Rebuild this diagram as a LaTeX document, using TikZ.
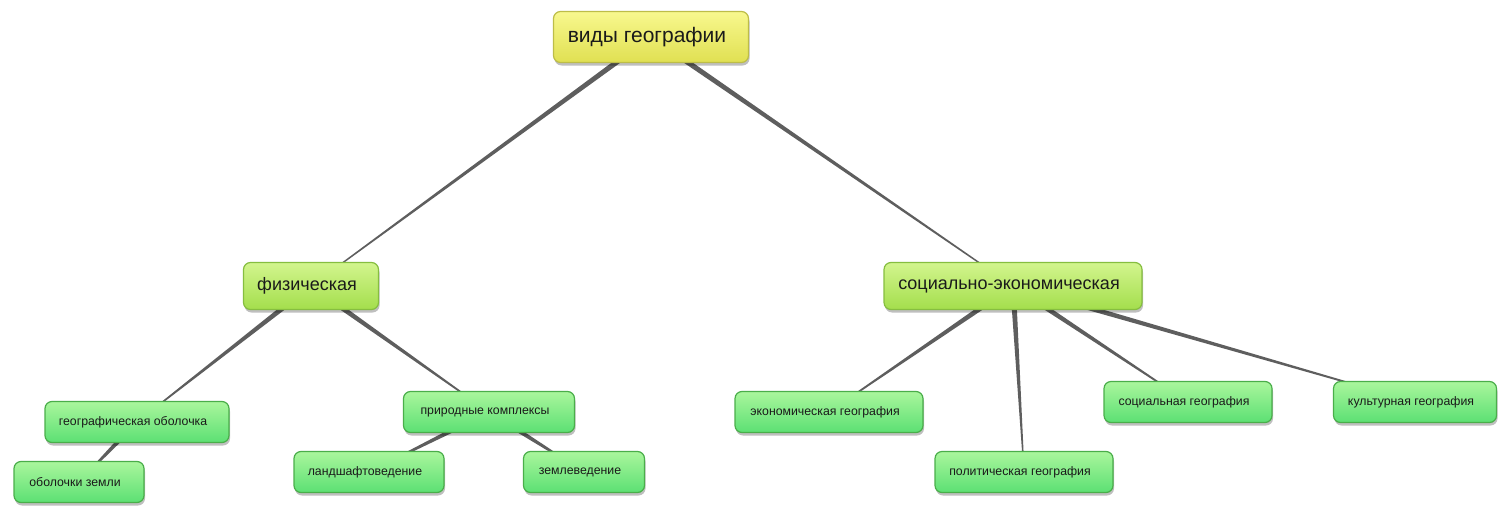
\documentclass[tikz,border=0pt]{standalone}
\usepackage{fontspec}
\setmainfont{Liberation Sans}
\usetikzlibrary{calc,shadows}
\pgfdeclarelayer{back}
\pgfdeclarelayer{bg}
\pgfsetlayers{back,bg,main}
\definecolor{linec}{HTML}{5E5E5E}
\definecolor{textc}{HTML}{1A1A1A}
\definecolor{ytop}{HTML}{F8F88E}
\definecolor{ybot}{HTML}{E0E052}
\definecolor{ybord}{HTML}{BDBD48}
\definecolor{mtop}{HTML}{D2F58E}
\definecolor{mbot}{HTML}{A4DE4C}
\definecolor{mbord}{HTML}{86BE40}
\definecolor{ltop}{HTML}{AAF69C}
\definecolor{lbot}{HTML}{5CE074}
\definecolor{lbord}{HTML}{4AAE4A}
\tikzset{
  box/.style={draw, line width=1.2pt, rounded corners=7pt, align=center, text=textc,
    inner sep=0pt, execute at end node={\hspace*{8pt}},
    drop shadow={shadow xshift=1pt, shadow yshift=-3pt, opacity=0.25, fill=black}},
  topbox/.style={box, draw=ybord, top color=ytop, bottom color=ybot,
    font=\fontsize{21}{24}\selectfont, minimum width=195pt, minimum height=51pt},
  midbox/.style={box, draw=mbord, top color=mtop, bottom color=mbot,
    font=\fontsize{18}{21}\selectfont, minimum height=47pt},
  leafbox/.style={box, draw=lbord, top color=ltop, bottom color=lbot,
    font=\fontsize{12.3}{15}\selectfont, minimum height=41pt},
}
\newcommand\taper[2]{%
  \fill[linec] ($(#1.center)!2.8pt!90:(#2.center)$) -- ($(#1.center)!2.8pt!-90:(#2.center)$)
    -- ($(#2.center)!0.5pt!90:(#1.center)$) -- ($(#2.center)!0.5pt!-90:(#1.center)$) -- cycle;}
\begin{document}
\begin{tikzpicture}[x=1pt,y=-1pt]
\begin{pgfonlayer}{back}
\useasboundingbox[fill=white] (0,0) rectangle (1506,514);
\end{pgfonlayer}
\node[topbox] (vid) at (651,37) {виды географии};
\node[midbox, minimum width=135pt] (fiz) at (311,286) {физическая};
\node[midbox, minimum width=258pt] (soc) at (1013,286) {социально-экономическая};
\node[leafbox, minimum width=184pt] (geo) at (137,422) {географическая оболочка};
\node[leafbox, minimum width=130pt] (obz) at (79,482) {оболочки земли};
\node[leafbox, minimum width=171pt] (prk) at (489,412) {природные комплексы};
\node[leafbox, minimum width=150pt] (lan) at (369,472) {ландшафтоведение};
\node[leafbox, minimum width=121pt] (zem) at (584,472) {землеведение};
\node[leafbox, minimum width=188pt] (eko) at (829,412) {экономическая география};
\node[leafbox, minimum width=178pt] (pol) at (1024,472) {политическая география};
\node[leafbox, minimum width=168pt] (sog) at (1188,402) {социальная география};
\node[leafbox, minimum width=163pt] (kul) at (1415,402) {культурная география};
\begin{pgfonlayer}{bg}
\taper{vid}{fiz}
\taper{vid}{soc}
\taper{fiz}{geo}
\taper{fiz}{prk}
\taper{geo}{obz}
\taper{prk}{lan}
\taper{prk}{zem}
\taper{soc}{eko}
\taper{soc}{pol}
\taper{soc}{sog}
\taper{soc}{kul}
\end{pgfonlayer}
\end{tikzpicture}
\end{document}
